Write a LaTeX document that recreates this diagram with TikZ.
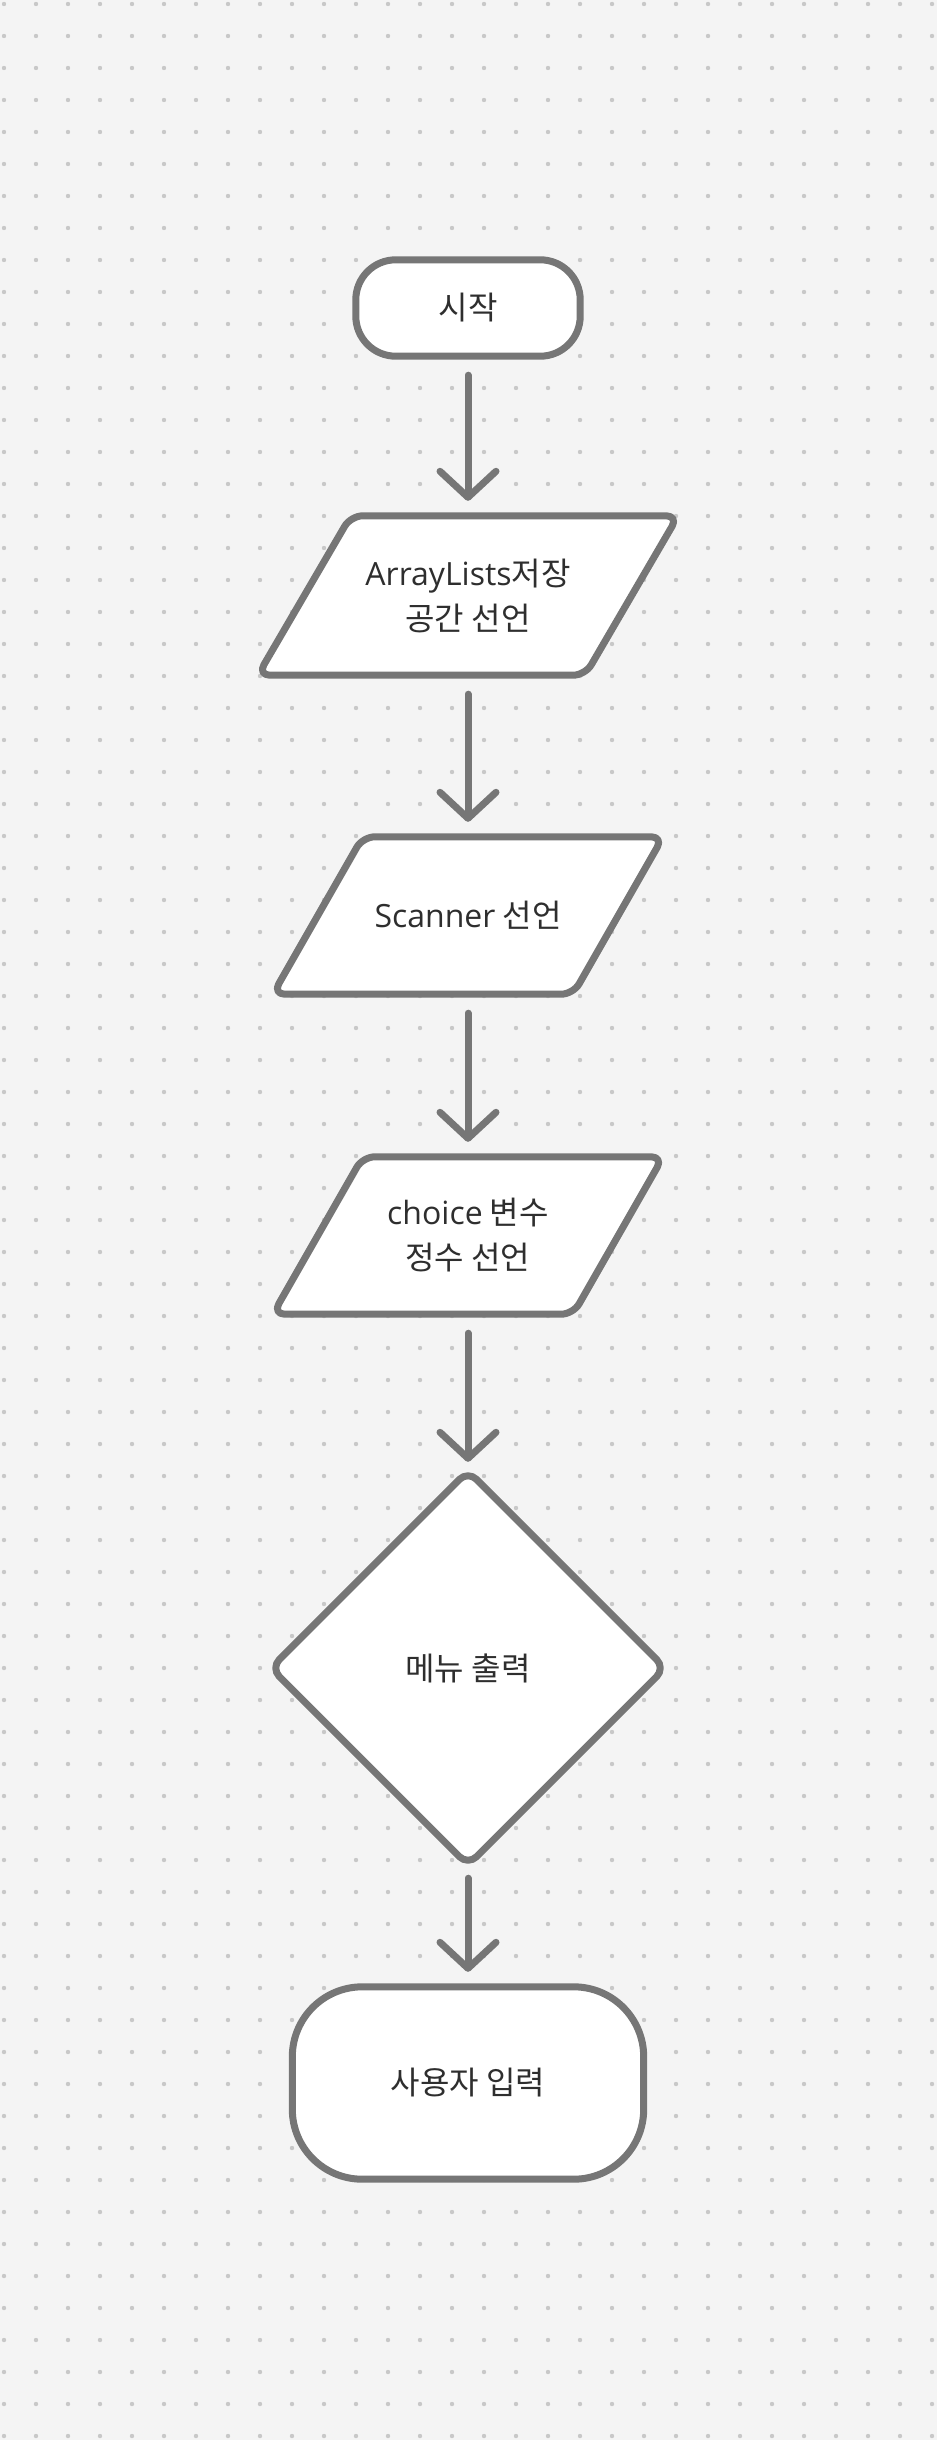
\documentclass[tikz,border=0pt]{standalone}
\usepackage{fontspec}
\setmainfont{Noto Sans CJK KR}
\newfontfamily\latf{Open Sans}
\usetikzlibrary{arrows.meta,calc}
\definecolor{bgc}{HTML}{F4F4F4}
\definecolor{dotc}{HTML}{C8C8C8}
\definecolor{linec}{HTML}{767676}
\definecolor{txtc}{HTML}{2E2E2E}
\pgfdeclarelayer{bg}
\pgfsetlayers{bg,main}
\begin{document}
\begin{tikzpicture}[x=1pt,y=-1pt,
  box/.style={draw=none, inner sep=0pt, align=center, text=txtc, font=\fontsize{32}{45}\selectfont},
  shapeline/.style={draw=linec, line width=7pt, fill=white, line join=round},
  flow/.style={draw=linec, line width=7pt, line cap=round,
    -{Straight Barb[length=26pt,width=56pt,line cap=round,line join=round]},
    shorten <=19pt, shorten >=15pt}
]
\useasboundingbox (0,0) rectangle (937,2440);

\node[box, minimum width=224pt, minimum height=96pt] (start) at (468,308) {시작};
\node[box, minimum width=420pt, minimum height=159pt] (decl) at (468,595.5) {{\latf ArrayLists}저장\\공간 선언};
\node[box, minimum width=390pt, minimum height=157pt] (scan) at (468,915.5) {{\latf Scanner} 선언};
\node[box, minimum width=390pt, minimum height=157pt] (choice) at (468,1235.5) {{\latf choice} 변수\\정수 선언};
\node[box, minimum width=394pt, minimum height=394pt] (menu) at (468,1668) {메뉴 출력};
\node[box, minimum width=351pt, minimum height=192pt] (input) at (468,2083) {사용자 입력};

\begin{pgfonlayer}{bg}
\fill[bgc] (0,0) rectangle (937,2440);
\foreach \i in {0,...,29}{
  \foreach \j in {0,...,76}{
    \fill[dotc] (4+32*\i, 4+32*\j) circle (2.2pt);
  }
}
\draw[shapeline, rounded corners=40pt] (start.south west) rectangle (start.north east);
\draw[shapeline, rounded corners=12pt] (decl.south west) -- ($(decl.north west)+(93,0)$) -- (decl.north east) -- ($(decl.south east)-(93,0)$) -- cycle;
\draw[shapeline, rounded corners=12pt] (scan.south west) -- ($(scan.north west)+(90,0)$) -- (scan.north east) -- ($(scan.south east)-(90,0)$) -- cycle;
\draw[shapeline, rounded corners=12pt] (choice.south west) -- ($(choice.north west)+(90,0)$) -- (choice.north east) -- ($(choice.south east)-(90,0)$) -- cycle;
\draw[shapeline, rounded corners=12pt] (menu.north) -- (menu.east) -- (menu.south) -- (menu.west) -- cycle;
\draw[shapeline, rounded corners=70pt] (input.south west) rectangle (input.north east);
\end{pgfonlayer}

\draw[flow] (start.south) -- (decl.north);
\draw[flow] (decl.south) -- (scan.north);
\draw[flow] (scan.south) -- (choice.north);
\draw[flow] (choice.south) -- ([yshift=-6pt]menu.north);
\draw[flow] ([yshift=6pt]menu.south) -- (input.north);
\end{tikzpicture}
\end{document}
